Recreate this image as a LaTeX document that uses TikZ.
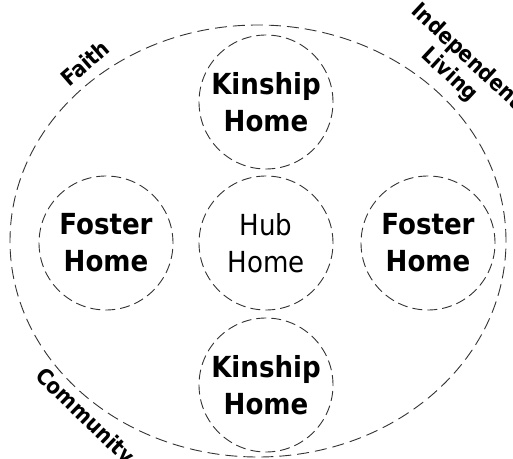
\documentclass[tikz,border=0pt]{standalone}
\usepackage{fontspec}
\setmainfont{DejaVu Sans Condensed}
\usetikzlibrary{shapes,calc}

\begin{document}
\begin{tikzpicture}[x=1pt,y=1pt,
        ring/.style={draw=black!80,line width=0.9pt,dash pattern=on 12pt off 6pt},
        home/.style={circle,draw=black!80,line width=0.9pt,dash pattern=on 10pt off 5pt,
            minimum size=134pt,inner sep=0pt,align=center,font=\fontsize{29}{37}\selectfont\bfseries},
        tag/.style={align=center,font=\fontsize{22}{25}\selectfont\bfseries}]
        \useasboundingbox (0,0) rectangle (513,458);
        % outer ring
        \draw[ring] (258,217) ellipse (248pt and 216pt);
        % homes
        \node[home] (kintop) at (266,356) {Kinship\\Home};
        \node[home,font=\fontsize{29}{37}\selectfont] (hub) at (266,215) {Hub\\Home};
        \node[home] (kinbot) at (266,73) {Kinship\\Home};
        \node[home] (fosleft) at (106,215) {Foster\\Home};
        \node[home] (fosright) at (428,215) {Foster\\Home};
        % labels round the ring
        \node[tag,rotate=41] (faith) at (85,395) {Faith};
        \node[tag,rotate=-43] (living) at (458,392) {Independent\\Living};
        \node[tag,rotate=-44] (community) at (84,41) {Community};
      \end{tikzpicture}
\end{document}
